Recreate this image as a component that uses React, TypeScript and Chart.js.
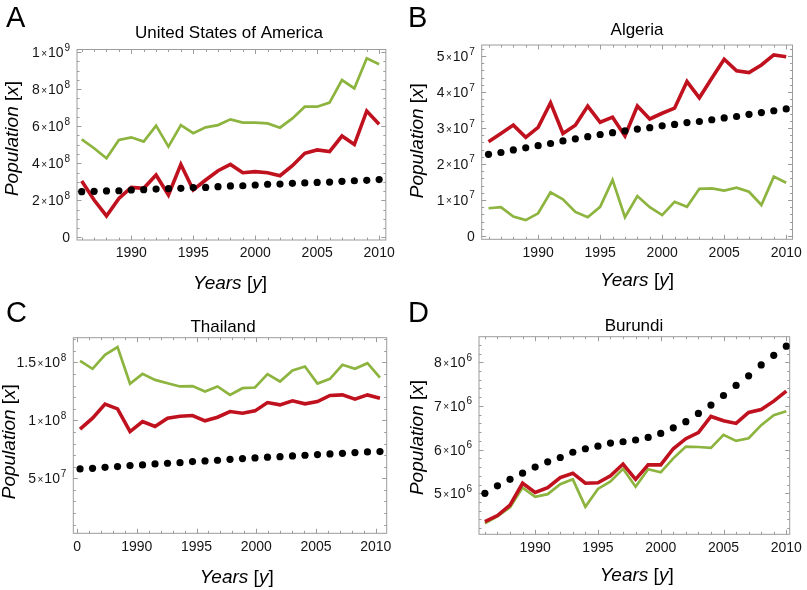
import React, { useEffect, useRef } from "react";
import { Chart, registerables } from "chart.js";

Chart.register(...registerables);

// ---------- DATA ----------
const YEARS = [1986, 1987, 1988, 1989, 1990, 1991, 1992, 1993, 1994, 1995, 1996, 1997, 1998, 1999, 2000, 2001, 2002, 2003, 2004, 2005, 2006, 2007, 2008, 2009, 2010];

// A: United States of America (units of 1e8)
const USA_UNIT = 1e8;
const USA_POP = [2.47, 2.49, 2.51, 2.52, 2.56, 2.58, 2.61, 2.63, 2.65, 2.69, 2.70, 2.74, 2.78, 2.79, 2.83, 2.87, 2.88, 2.92, 2.94, 2.97, 2.99, 3.03, 3.06, 3.08, 3.12];
const USA_GREEN = [5.29, 4.81, 4.27, 5.26, 5.40, 5.17, 6.03, 4.90, 6.06, 5.62, 5.94, 6.06, 6.37, 6.19, 6.19, 6.15, 5.92, 6.42, 7.05, 7.05, 7.27, 8.49, 8.04, 9.66, 9.34];
const USA_RED = [3.05, 2.02, 1.16, 2.11, 2.70, 2.65, 3.37, 2.29, 3.94, 2.56, 3.10, 3.60, 3.94, 3.49, 3.55, 3.49, 3.33, 3.87, 4.54, 4.72, 4.63, 5.47, 5.01, 6.82, 6.11];
const USA_Y_TICKS = [0, 2e8, 4e8, 6e8, 8e8, 1e9];
const USA_Y_LABELS = ["0", "2\u00d710^8", "4\u00d710^8", "6\u00d710^8", "8\u00d710^8", "1\u00d710^9"];

// B: Algeria (units of 1e7)
const DZA_UNIT = 1e7;
const DZA_POP = [2.27, 2.32, 2.39, 2.45, 2.51, 2.57, 2.64, 2.70, 2.76, 2.82, 2.87, 2.92, 2.97, 3.01, 3.06, 3.10, 3.15, 3.18, 3.23, 3.28, 3.32, 3.38, 3.43, 3.48, 3.53];
const DZA_RED = [2.62, 2.85, 3.08, 2.74, 3.02, 3.70, 2.85, 3.08, 3.61, 3.16, 3.30, 2.78, 3.61, 3.25, 3.41, 3.55, 4.29, 3.84, 4.38, 4.91, 4.59, 4.54, 4.75, 5.03, 4.98];
const DZA_GREEN = [0.77, 0.80, 0.54, 0.44, 0.63, 1.21, 1.02, 0.67, 0.52, 0.81, 1.56, 0.52, 1.11, 0.80, 0.58, 0.95, 0.81, 1.31, 1.32, 1.26, 1.34, 1.23, 0.86, 1.65, 1.48];
const DZA_Y_TICKS = [0, 1e7, 2e7, 3e7, 4e7, 5e7];
const DZA_Y_LABELS = ["0", "1\u00d710^7", "2\u00d710^7", "3\u00d710^7", "4\u00d710^7", "5\u00d710^7"];

// C: Thailand (units of 1e7)
const THA_UNIT = 1e7;
const THA_POP = [5.81, 5.86, 5.95, 6.01, 6.10, 6.15, 6.24, 6.30, 6.35, 6.44, 6.50, 6.56, 6.64, 6.70, 6.76, 6.82, 6.87, 6.93, 6.99, 7.05, 7.10, 7.16, 7.22, 7.28, 7.31];
const THA_GREEN = [15.14, 14.45, 15.66, 16.33, 13.16, 14.02, 13.50, 13.21, 12.93, 12.96, 12.49, 12.93, 12.20, 12.78, 12.84, 13.99, 13.36, 14.31, 14.65, 13.18, 13.59, 14.80, 14.45, 14.94, 13.70];
const THA_RED = [9.24, 10.19, 11.40, 10.99, 9.03, 9.90, 9.47, 10.19, 10.36, 10.42, 9.96, 10.27, 10.76, 10.62, 10.82, 11.54, 11.34, 11.69, 11.43, 11.63, 12.15, 12.20, 11.83, 12.20, 11.92];
const THA_Y_TICKS = [5e7, 1e8, 1.5e8];
const THA_Y_LABELS = ["5\u00d710^7", "1\u00d710^8", "1.5\u00d710^8"];
const THA_X_TICK_YEARS = [1985, 1990, 1995, 2000, 2005, 2010];
const THA_X_LABELS = ["0", "1990", "1995", "2000", "2005", "2010"];

// D: Burundi (units of 1e6)
const BDI_UNIT = 1e6;
const BDI_POP = [5.00, 5.17, 5.32, 5.46, 5.60, 5.72, 5.82, 5.94, 6.02, 6.08, 6.15, 6.18, 6.22, 6.28, 6.37, 6.50, 6.64, 6.83, 7.02, 7.24, 7.47, 7.69, 7.94, 8.16, 8.37];
const BDI_RED = [4.35, 4.49, 4.73, 5.23, 5.02, 5.13, 5.36, 5.46, 5.23, 5.24, 5.40, 5.67, 5.32, 5.65, 5.65, 6.02, 6.25, 6.39, 6.76, 6.66, 6.60, 6.85, 6.92, 7.11, 7.34];
const BDI_GREEN = [4.31, 4.47, 4.68, 5.13, 4.92, 4.98, 5.21, 5.32, 4.69, 5.10, 5.27, 5.56, 5.15, 5.55, 5.48, 5.80, 6.07, 6.06, 6.04, 6.34, 6.20, 6.26, 6.56, 6.79, 6.88];
const BDI_Y_TICKS = [5e6, 6e6, 7e6, 8e6];
const BDI_Y_LABELS = ["5\u00d710^6", "6\u00d710^6", "7\u00d710^6", "8\u00d710^6"];

const X_TICK_YEARS = [1990, 1995, 2000, 2005, 2010];
const X_LABELS = ["1990", "1995", "2000", "2005", "2010"];

// ---------- STYLE ----------
const FONT = "'Liberation Sans', Arial, Helvetica, sans-serif";
const RED = "#c0111f";
const GREEN = "#8cb43f";
const FRAME = "#9c9c9c";
const TICK_TEXT = "#151515";

type PanelCfg = {
  left: number; top: number; w: number; h: number;
  areaLeft: number; areaRight: number; areaTop: number; areaBottom: number;
  xMin: number; xMax: number; yMin: number; yMax: number;
  xMap: (labelYear: number) => number;
  xTickYears: number[]; xLabels: string[]; xMinorFrom: number; xMinorTo: number;
  yTicks: number[]; yLabels: string[]; yMinorStep: number;
  unit: number; pop: number[]; red: number[]; green: number[];
  letter: string; letterX: number; letterY: number;
  title: string; titleX: number; titleY: number;
  yTitleX: number; yTitleY: number; xTitleX: number; xTitleY: number;
};

const identity = (v: number) => v;
const thaiMap = (L: number) => 1986 + (L - 1985.25) / 1.046;

const PANELS: PanelCfg[] = [
  {
    left: 0, top: 0, w: 400, h: 295,
    areaLeft: 77, areaRight: 386.5, areaTop: 49.5, areaBottom: 240,
    xMin: 1985.62, xMax: 2010.54, yMin: -0.0135e9, yMax: 1.0135e9,
    xMap: identity, xTickYears: X_TICK_YEARS, xLabels: X_LABELS, xMinorFrom: 1986, xMinorTo: 2010,
    yTicks: USA_Y_TICKS, yLabels: USA_Y_LABELS, yMinorStep: 5e7,
    unit: USA_UNIT, pop: USA_POP, red: USA_RED, green: USA_GREEN,
    letter: "A", letterX: 6, letterY: 27,
    title: "United States of America", titleX: 229, titleY: 38,
    yTitleX: 13, yTitleY: 138.5, xTitleX: 230, xTitleY: 289,
  },
  {
    left: 400, top: 0, w: 407, h: 295,
    areaLeft: 81.7, areaRight: 395.7, areaTop: 45, areaBottom: 239.3,
    xMin: 1985.45, xMax: 2010.51, yMin: -0.092e7, yMax: 5.306e7,
    xMap: identity, xTickYears: X_TICK_YEARS, xLabels: X_LABELS, xMinorFrom: 1986, xMinorTo: 2010,
    yTicks: DZA_Y_TICKS, yLabels: DZA_Y_LABELS, yMinorStep: 2e6,
    unit: DZA_UNIT, pop: DZA_POP, red: DZA_RED, green: DZA_GREEN,
    letter: "B", letterX: 8, letterY: 27,
    title: "Algeria", titleX: 237, titleY: 35,
    yTitleX: 17.5, yTitleY: 140.7, xTitleX: 237, xTitleY: 286,
  },
  {
    left: 0, top: 295, w: 400, h: 295,
    areaLeft: 73.3, areaRight: 386.7, areaTop: 42.7, areaBottom: 238.3,
    xMin: 1985.46, xMax: 2010.54, yMin: 0.25e7, yMax: 1.714e8,
    xMap: thaiMap, xTickYears: THA_X_TICK_YEARS, xLabels: THA_X_LABELS, xMinorFrom: 1985, xMinorTo: 2010,
    yTicks: THA_Y_TICKS, yLabels: THA_Y_LABELS, yMinorStep: 1e7,
    unit: THA_UNIT, pop: THA_POP, red: THA_RED, green: THA_GREEN,
    letter: "C", letterX: 6, letterY: 27,
    title: "Thailand", titleX: 223, titleY: 37,
    yTitleX: 10, yTitleY: 146.7, xTitleX: 236.7, xTitleY: 288,
  },
  {
    left: 400, top: 295, w: 407, h: 295,
    areaLeft: 79, areaRight: 395.7, areaTop: 41.7, areaBottom: 239.3,
    xMin: 1985.53, xMax: 2010.27, yMin: 4.061e6, yMax: 8.586e6,
    xMap: identity, xTickYears: X_TICK_YEARS, xLabels: X_LABELS, xMinorFrom: 1986, xMinorTo: 2010,
    yTicks: BDI_Y_TICKS, yLabels: BDI_Y_LABELS, yMinorStep: 2e5,
    unit: BDI_UNIT, pop: BDI_POP, red: BDI_RED, green: BDI_GREEN,
    letter: "D", letterX: 8, letterY: 27,
    title: "Burundi", titleX: 234, titleY: 36,
    yTitleX: 17.5, yTitleY: 142.5, xTitleX: 236.7, xTitleY: 286,
  },
];

type Part = { t: string; it: boolean };

function drawMixed(ctx: CanvasRenderingContext2D, parts: Part[], size: number) {
  let total = 0;
  const widths = parts.map((p) => {
    ctx.font = `${p.it ? "italic " : ""}${size}px ${FONT}`;
    const w = ctx.measureText(p.t).width;
    total += w;
    return w;
  });
  let x = -total / 2;
  parts.forEach((p, i) => {
    ctx.font = `${p.it ? "italic " : ""}${size}px ${FONT}`;
    ctx.fillText(p.t, x, 0);
    x += widths[i];
  });
}

// Draws "m×10^e" right-aligned at (right, py) with a raised exponent
function drawSciLabel(ctx: CanvasRenderingContext2D, label: string, right: number, py: number) {
  const base = 14;
  const small = 10;
  const baseline = py + 5;
  if (!label.includes("^")) {
    ctx.font = `${base}px ${FONT}`;
    ctx.textAlign = "right";
    ctx.fillText(label, right, baseline);
    return;
  }
  const [left, exp] = label.split("^");
  const [mant, ten] = left.split("\u00d7");
  ctx.textAlign = "left";
  const segs = [
    { t: mant, f: `${base}px ${FONT}`, dy: 0, gap: 1.5 },
    { t: "\u00d7", f: `${small}px ${FONT}`, dy: -0.5, gap: 1 },
    { t: ten, f: `${base}px ${FONT}`, dy: 0, gap: 0.8 },
    { t: exp, f: `${small}px ${FONT}`, dy: -6.5, gap: 0 },
  ];
  let total = 0;
  const ws = segs.map((s) => {
    ctx.font = s.f;
    const w = ctx.measureText(s.t).width + s.gap;
    total += w;
    return w;
  });
  let x = right - total;
  segs.forEach((s, i) => {
    ctx.font = s.f;
    ctx.fillText(s.t, x, baseline + s.dy);
    x += ws[i];
  });
}

function makePlugin(cfg: PanelCfg) {
  return {
    id: "mmaFrame" + cfg.letter,
    beforeDatasetsDraw(chart: any) {
      const { ctx, chartArea } = chart;
      const { left, right, top, bottom } = chartArea;
      const xs = chart.scales.x;
      const ys = chart.scales.y;
      ctx.save();
      ctx.strokeStyle = FRAME;
      ctx.lineWidth = 1;
      ctx.strokeRect(left, top, right - left, bottom - top);
      const MAJ = 4.5;
      const MIN = 2.5;
      ctx.beginPath();
      for (let L = cfg.xMinorFrom; L <= cfg.xMinorTo; L++) {
        const v = cfg.xMap(L);
        if (v < cfg.xMin || v > cfg.xMax) continue;
        const len = cfg.xTickYears.includes(L) ? MAJ : MIN;
        const px = Math.round(xs.getPixelForValue(v)) + 0.5;
        ctx.moveTo(px, bottom);
        ctx.lineTo(px, bottom - len);
        ctx.moveTo(px, top);
        ctx.lineTo(px, top + len);
      }
      const start = Math.ceil(cfg.yMin / cfg.yMinorStep);
      const end = Math.floor(cfg.yMax / cfg.yMinorStep);
      for (let k = start; k <= end; k++) {
        const v = k * cfg.yMinorStep;
        const isMaj = cfg.yTicks.some((t) => Math.abs(t - v) < cfg.yMinorStep * 0.01);
        const len = isMaj ? MAJ : MIN;
        const py = Math.round(ys.getPixelForValue(v)) + 0.5;
        ctx.moveTo(left, py);
        ctx.lineTo(left + len, py);
        ctx.moveTo(right, py);
        ctx.lineTo(right - len, py);
      }
      ctx.stroke();
      ctx.restore();
    },
    afterDraw(chart: any) {
      const ctx: CanvasRenderingContext2D = chart.ctx;
      const ys = chart.scales.y;
      ctx.save();
      // y tick labels
      ctx.fillStyle = TICK_TEXT;
      ctx.textBaseline = "alphabetic";
      cfg.yTicks.forEach((v, i) => {
        drawSciLabel(ctx, cfg.yLabels[i], chart.chartArea.left - 7, ys.getPixelForValue(v));
      });
      ctx.fillStyle = "#000";
      // panel letter
      ctx.textAlign = "left";
      ctx.font = `29px ${FONT}`;
      ctx.fillText(cfg.letter, cfg.letterX, cfg.letterY);
      // title
      ctx.textAlign = "center";
      ctx.font = `17px ${FONT}`;
      ctx.fillText(cfg.title, cfg.titleX, cfg.titleY);
      // x title
      ctx.textAlign = "left";
      ctx.save();
      ctx.translate(cfg.xTitleX, cfg.xTitleY);
      drawMixed(ctx, [
        { t: "Years", it: true },
        { t: " [", it: false },
        { t: "y", it: true },
        { t: "]", it: false },
      ], 19);
      ctx.restore();
      // y title
      ctx.save();
      ctx.translate(cfg.yTitleX, cfg.yTitleY);
      ctx.rotate(-Math.PI / 2);
      ctx.textBaseline = "middle";
      drawMixed(ctx, [
        { t: "Population", it: true },
        { t: " [", it: false },
        { t: "x", it: true },
        { t: "]", it: false },
      ], 19);
      ctx.restore();
      ctx.restore();
    },
  };
}

function buildConfig(cfg: PanelCfg): any {
  const pts = (arr: number[]) => YEARS.map((yr, i) => ({ x: yr, y: arr[i] * cfg.unit }));
  const xTickValues = cfg.xTickYears.map(cfg.xMap);
  return {
    type: "scatter",
    data: {
      datasets: [
        {
          label: "model",
          data: pts(cfg.pop),
          showLine: false,
          pointRadius: 3.6,
          pointHoverRadius: 3.6,
          pointBackgroundColor: "#000",
          pointBorderWidth: 0,
          order: 0,
        },
        {
          label: "red",
          data: pts(cfg.red),
          showLine: true,
          borderColor: RED,
          borderWidth: 3.6,
          pointRadius: 0,
          tension: 0,
          order: 1,
        },
        {
          label: "green",
          data: pts(cfg.green),
          showLine: true,
          borderColor: GREEN,
          borderWidth: 2.7,
          pointRadius: 0,
          tension: 0,
          order: 2,
        },
      ],
    },
    options: {
      responsive: false,
      animation: false,
      events: [],
      layout: {
        padding: {
          left: 0,
          top: cfg.areaTop,
          right: cfg.w - cfg.areaRight,
          bottom: 0,
        },
      },
      plugins: {
        legend: { display: false },
        title: { display: false },
        tooltip: { enabled: false },
      },
      scales: {
        x: {
          type: "linear",
          min: cfg.xMin,
          max: cfg.xMax,
          afterBuildTicks: (s: any) => {
            s.ticks = xTickValues.map((v) => ({ value: v }));
          },
          afterFit: (s: any) => {
            s.height = cfg.h - cfg.areaBottom;
          },
          ticks: {
            autoSkip: false,
            maxRotation: 0,
            minRotation: 0,
            padding: 5,
            color: TICK_TEXT,
            font: { family: FONT, size: 14 },
            callback: (_v: any, i: number) => cfg.xLabels[i],
          },
          grid: { display: false, drawTicks: false },
          border: { display: false },
        },
        y: {
          type: "linear",
          min: cfg.yMin,
          max: cfg.yMax,
          afterBuildTicks: (s: any) => {
            s.ticks = cfg.yTicks.map((v) => ({ value: v }));
          },
          afterFit: (s: any) => {
            s.width = cfg.areaLeft;
          },
          ticks: { display: false },
          grid: { display: false, drawTicks: false },
          border: { display: false },
        },
      },
    },
    plugins: [makePlugin(cfg)],
  };
}

function Panel({ cfg }: { cfg: PanelCfg }) {
  const ref = useRef<HTMLCanvasElement>(null);
  useEffect(() => {
    if (!ref.current) return;
    const chart = new Chart(ref.current, buildConfig(cfg));
    return () => chart.destroy();
  }, [cfg]);
  return (
    <canvas
      ref={ref}
      width={cfg.w}
      height={cfg.h}
      style={{ position: "absolute", left: cfg.left, top: cfg.top, width: cfg.w, height: cfg.h }}
    />
  );
}

export default function App() {
  return (
    <div style={{ position: "fixed", left: 0, top: 0, width: 807, height: 590, background: "#fff", overflow: "hidden" }}>
      {PANELS.map((p) => (
        <Panel key={p.letter} cfg={p} />
      ))}
    </div>
  );
}
